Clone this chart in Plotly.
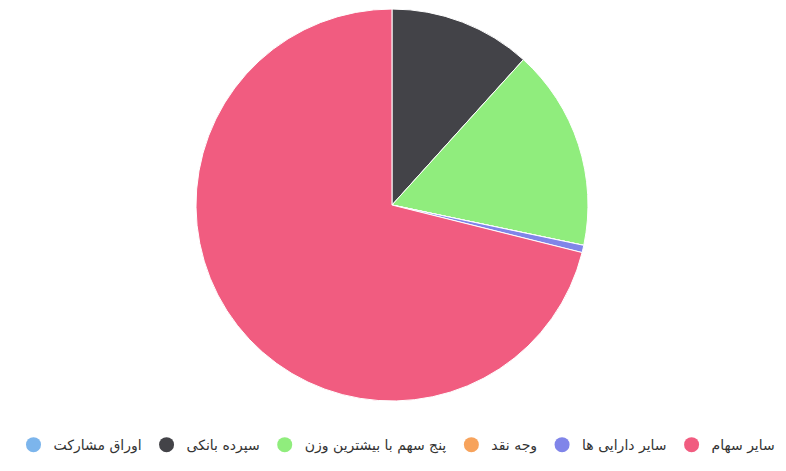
import plotly.graph_objects as go

# portfolio share per asset class (percent)
labels = ['اوراق مشارکت', 'سپرده بانکی', 'پنج سهم با بیشترین وزن', 'وجه نقد', 'سایر دارایی ها', 'سایر سهام']
values = [0, 11.7, 16.6, 0, 0.6, 71.1]
colors = ['#7cb5ec', '#434348', '#90ed7d', '#f7a35c', '#8085e9', '#f15c80']

fig = go.Figure()

fig.add_trace(go.Pie(
    labels=labels,
    values=values,
    sort=False,
    direction='clockwise',
    rotation=0,
    marker=dict(colors=colors, line=dict(color='white', width=1)),
    textinfo='none',
    showlegend=False,
    domain=dict(x=[0.2416, 0.7455], y=[0.1512, 0.9978]),
))

# circle markers for the legend, like the original
for name, c in zip(labels, colors):
    fig.add_trace(go.Scatter(
        x=[None], y=[None], mode='markers', name=name,
        marker=dict(color=c, size=15, symbol='circle'),
    ))

# page body has an 8px margin, so the figure is a bit smaller than the window
fig.update_layout(
    width=778, height=463,
    margin=dict(l=0, r=0, t=0, b=0),
    paper_bgcolor='white', plot_bgcolor='white',
    font=dict(family='DejaVu Sans', size=14, color='#333333'),
    xaxis=dict(visible=False), yaxis=dict(visible=False),
    legend=dict(orientation='h', x=0.5, xanchor='center', y=0.056, yanchor='middle',
                font=dict(size=14, color='#333333')),
)

fig.write_html("out.html")
